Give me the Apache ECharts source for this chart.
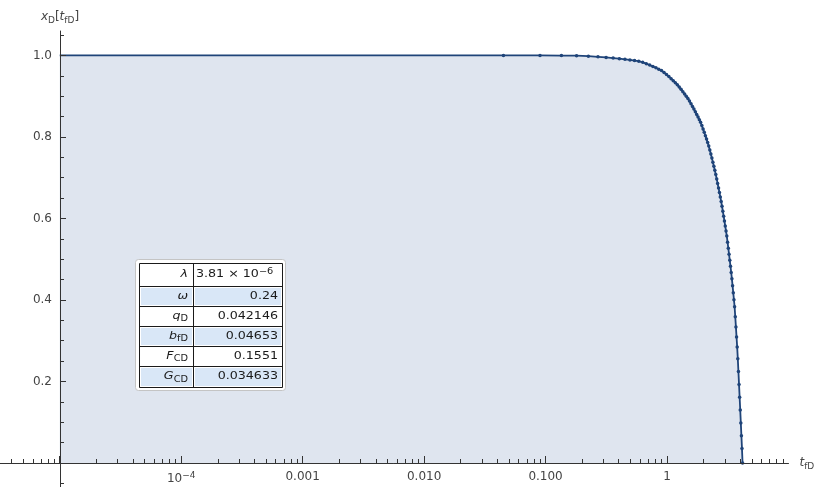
<!DOCTYPE html>
<html>
<head>
<meta charset="utf-8">
<script src="https://cdn.jsdelivr.net/npm/echarts@6/dist/echarts.min.js"></script>
<style>
  html, body { margin: 0; padding: 0; background: #ffffff; }
  #chart { width: 820px; height: 487px; }
</style>
</head>
<body>
<div id="chart"></div>
<script>
// Dimensionless time t_fD and the matching x_D values of the curve
const tfD = [1e-5, 0.045, 0.09, 0.135, 0.18, 0.225, 0.27, 0.315, 0.36, 0.405, 0.45,
  0.495, 0.54, 0.585, 0.63, 0.675, 0.72, 0.765, 0.81, 0.855, 0.9,
  0.945, 0.99, 1.035, 1.08, 1.125, 1.17, 1.215, 1.26, 1.305, 1.35,
  1.395, 1.44, 1.485, 1.53, 1.575, 1.62, 1.665, 1.71, 1.755, 1.8,
  1.845, 1.89, 1.935, 1.98, 2.025, 2.07, 2.115, 2.16, 2.205, 2.25,
  2.295, 2.34, 2.385, 2.43, 2.475, 2.52, 2.565, 2.61, 2.655, 2.7,
  2.745, 2.79, 2.835, 2.88, 2.925, 2.97, 3.015, 3.06, 3.105, 3.15,
  3.195, 3.24, 3.285, 3.33, 3.375, 3.42, 3.465, 3.51, 3.555, 3.6,
  3.645, 3.69, 3.735, 3.78, 3.825, 3.87, 3.915, 3.96, 4.005, 4.05,
  4.095, 4.14, 4.185];
const xD = [1, 1.0, 1.0, 0.9998, 0.9995, 0.9982, 0.9966, 0.9951, 0.9936, 0.9920, 0.9905,
  0.9890, 0.9874, 0.9859, 0.9832, 0.9798, 0.9764, 0.9730, 0.9697, 0.9663, 0.9629,
  0.9580, 0.9530, 0.9481, 0.9431, 0.9382, 0.9332, 0.9280, 0.9224, 0.9168, 0.9111,
  0.9055, 0.8999, 0.8943, 0.8880, 0.8815, 0.8750, 0.8685, 0.8619, 0.8554, 0.8489,
  0.8424, 0.8359, 0.8279, 0.8196, 0.8113, 0.8030, 0.7947, 0.7864, 0.7778, 0.7679,
  0.7580, 0.7481, 0.7382, 0.7283, 0.7184, 0.7080, 0.6970, 0.6859, 0.6749, 0.6639,
  0.6529, 0.6418, 0.6300, 0.6178, 0.6057, 0.5935, 0.5814, 0.5692, 0.5568, 0.5419,
  0.5271, 0.5122, 0.4974, 0.4825, 0.4677, 0.4518, 0.4347, 0.4176, 0.4005, 0.3834,
  0.3587, 0.3339, 0.3092, 0.2844, 0.2559, 0.2244, 0.1929, 0.1614, 0.1299, 0.0984,
  0.0669, 0.0354, 0.0];

// Axis ticks and labels
const xMajorTicks = [1e-5, 1e-4, 1e-3, 1e-2, 1e-1, 1];
const xLabelTicks = [1e-4, 1e-3, 1e-2, 1e-1, 1];
const xLabelText = ['{n|10}{sup|\u22124}', '0.001', '0.010', '0.100', '1'];
const xMinorMantissas = [2, 3, 4, 5, 6, 7, 8, 9];
const xMinorDecades = [-6, -5, -4, -3, -2, -1, 0];
const yMajorTicks = [0.2, 0.4, 0.6, 0.8, 1.0];
const yMinorTicks = [0.05, 0.1, 0.15, 0.25, 0.3, 0.35, 0.45, 0.5, 0.55,
  0.65, 0.7, 0.75, 0.85, 0.9, 0.95, 1.05];
const yLowTicks = [-0.05];

// Parameter table
const paramNames = ['{i|\u03bb}', '{i|\u03c9}', '{i|q}{sub|D}', '{i|b}{sub|fD}', '{i|F}{sub|CD}', '{i|G}{sub|CD}'];
const paramValues = ['{n|3.81 \u00d7 10}{sup|\u22126}', '0.24', '0.042146', '0.04653', '0.1551', '0.034633'];

const X_MIN = Math.pow(10, -5.5);
const X_MAX = 10;
const Y_MIN = 0;
const Y_MAX = 1.06;
const Y_LOW = -0.06;
const FONT = 'DejaVu Sans';
const axisColor = '#333333';
const labelColor = '#444444';
const lineColor = '#1f4479';
const fillColor = '#dfe5ef';

const xMinorTicks = [];
xMinorDecades.forEach(d => xMinorMantissas.forEach(m => {
  const v = m * Math.pow(10, d);
  if (v > X_MIN && v < X_MAX) xMinorTicks.push(v);
}));

const seriesData = tfD.map((t, i) => i === 0
  ? { value: [t, xD[i]], symbol: 'none' }
  : [t, xD[i]]);

const richBase = {
  n: { fontFamily: FONT, fontSize: 12, color: labelColor, lineHeight: 16 },
  i: { fontFamily: FONT, fontSize: 12, fontStyle: 'italic', color: labelColor, lineHeight: 16 },
  sub: { fontFamily: FONT, fontSize: 9, color: labelColor, lineHeight: 10, verticalAlign: 'bottom' },
  sup: { fontFamily: FONT, fontSize: 9, color: labelColor, lineHeight: 10, verticalAlign: 'top' }
};

// Table layout
const tbl = { x0: 139, x1: 282, split: 193, rows: [263, 286, 306, 326, 346, 366, 387] };
const tableFont = 11;
const tableRich = {
  n: { fontFamily: FONT, fontSize: tableFont, fill: '#1a1a1a', lineHeight: 15 },
  i: { fontFamily: FONT, fontSize: tableFont, fontStyle: 'italic', fill: '#1a1a1a', lineHeight: 15 },
  sub: { fontFamily: FONT, fontSize: 8.5, fill: '#1a1a1a', lineHeight: 9, verticalAlign: 'bottom' },
  sup: { fontFamily: FONT, fontSize: 8.5, fill: '#1a1a1a', lineHeight: 9, verticalAlign: 'top' }
};
const tableElems = [];
tableElems.push({
  type: 'rect', z: 100,
  shape: { x: 135.5, y: 259.5, width: 150, height: 131, r: 3 },
  style: { fill: '#ffffff', stroke: '#c4c4c4', lineWidth: 1 }
});
for (let r = 0; r < paramNames.length; r++) {
  const top = tbl.rows[r], bot = tbl.rows[r + 1];
  if (r % 2 === 1) {
    tableElems.push({ type: 'rect', z: 101,
      shape: { x: tbl.x0 + 2, y: top + 2, width: tbl.split - tbl.x0 - 3, height: bot - top - 3 },
      style: { fill: '#d9e7f7' } });
    tableElems.push({ type: 'rect', z: 101,
      shape: { x: tbl.split + 2, y: top + 2, width: tbl.x1 - tbl.split - 3, height: bot - top - 3 },
      style: { fill: '#d9e7f7' } });
  }
  const cy = (top + bot) / 2;
  tableElems.push({ type: 'text', z: 103, x: tbl.split - 5, y: cy, scaleX: 1.15,
    style: { text: paramNames[r], rich: tableRich, fontFamily: FONT, fontSize: tableFont,
      fill: '#1a1a1a', align: 'right', verticalAlign: 'middle', textAlign: 'right', textVerticalAlign: 'middle' } });
  const first = r === 0;
  tableElems.push({ type: 'text', z: 103, x: first ? tbl.split + 3 : tbl.x1 - 4, y: cy, scaleX: 1.15,
    style: { text: paramValues[r], rich: tableRich, fontFamily: FONT, fontSize: tableFont,
      fill: '#1a1a1a', align: first ? 'left' : 'right', verticalAlign: 'middle',
      textAlign: first ? 'left' : 'right', textVerticalAlign: 'middle' } });
}
tableElems.push({ type: 'rect', z: 102,
  shape: { x: tbl.x0 + 0.5, y: tbl.rows[0] + 0.5, width: tbl.x1 - tbl.x0, height: tbl.rows[6] - tbl.rows[0] },
  style: { fill: 'none', stroke: '#1a1a1a', lineWidth: 1 } });
tableElems.push({ type: 'line', z: 102,
  shape: { x1: tbl.split + 0.5, y1: tbl.rows[0], x2: tbl.split + 0.5, y2: tbl.rows[6] },
  style: { stroke: '#1a1a1a', lineWidth: 1 } });
for (let r = 1; r < tbl.rows.length - 1; r++) {
  tableElems.push({ type: 'line', z: 102,
    shape: { x1: tbl.x0, y1: tbl.rows[r] + 0.5, x2: tbl.x1, y2: tbl.rows[r] + 0.5 },
    style: { stroke: '#1a1a1a', lineWidth: 1 } });
}

const hiddenLogX = (gridIndex) => ({
  type: 'log', logBase: 10, min: X_MIN, max: X_MAX, position: 'bottom', gridIndex,
  axisLine: { show: false, onZero: false }, axisTick: { show: false },
  axisLabel: { show: false }, splitLine: { show: false }
});

const chart = echarts.init(document.getElementById('chart'), null, { renderer: 'canvas' });
chart.setOption({
  animation: false,
  backgroundColor: '#ffffff',
  grid: [
    { left: -1, right: 31.5, top: 31, bottom: 24, containLabel: false, outerBoundsMode: 'none' },
    // short strip below the time axis that carries the downward part of the x_D axis
    { left: -1, right: 31.5, top: 463, bottom: -0.5, containLabel: false, outerBoundsMode: 'none' }
  ],
  xAxis: [
    {
      type: 'log', logBase: 10, min: X_MIN, max: X_MAX, position: 'bottom', gridIndex: 0, z: 10,
      axisLine: { show: true, onZero: false, lineStyle: { color: axisColor, width: 1 } },
      axisTick: { show: true, inside: true, length: 7, customValues: xMajorTicks,
        lineStyle: { color: axisColor, width: 1 } },
      axisLabel: {
        show: true, customValues: xLabelTicks, margin: 8,
        fontFamily: FONT, fontSize: 12, color: labelColor,
        formatter: v => {
          const k = xLabelTicks.findIndex(t => Math.abs(Math.log10(t) - Math.log10(v)) < 1e-6);
          return k < 0 ? '' : xLabelText[k];
        },
        rich: richBase
      },
      minorTick: { show: false },
      splitLine: { show: false },
      name: '{i|t}{sub|fD}', nameLocation: 'end', nameGap: 11,
      nameTextStyle: { rich: richBase, fontFamily: FONT, fontSize: 12, color: labelColor }
    },
    {
      type: 'log', logBase: 10, min: X_MIN, max: X_MAX, position: 'bottom', gridIndex: 0, z: 10,
      axisLine: { show: false, onZero: false },
      axisTick: { show: true, inside: true, length: 4, customValues: xMinorTicks,
        lineStyle: { color: axisColor, width: 1 } },
      axisLabel: { show: false },
      splitLine: { show: false }
    },
    hiddenLogX(1)
  ],
  yAxis: [
    {
      type: 'value', min: Y_MIN, max: Y_MAX, position: 'left', offset: -61, gridIndex: 0, z: 10,
      axisLine: { show: true, onZero: false, lineStyle: { color: axisColor, width: 1 } },
      axisTick: { show: true, inside: true, length: 6, customValues: yMajorTicks,
        lineStyle: { color: axisColor, width: 1 } },
      axisLabel: { show: true, customValues: yMajorTicks, margin: 8,
        fontFamily: FONT, fontSize: 12, color: labelColor,
        formatter: v => v.toFixed(1) },
      splitLine: { show: false },
      name: '{i|x}{sub|D}{n|[}{i|t}{sub|fD}{n|]}', nameLocation: 'end', nameGap: 6,
      nameTextStyle: { rich: richBase, fontFamily: FONT, fontSize: 12, color: labelColor }
    },
    {
      type: 'value', min: Y_MIN, max: Y_MAX, position: 'left', offset: -61, gridIndex: 0, z: 10,
      axisLine: { show: false, onZero: false },
      axisTick: { show: true, inside: true, length: 4, customValues: yMinorTicks,
        lineStyle: { color: axisColor, width: 1 } },
      axisLabel: { show: false },
      splitLine: { show: false }
    },
    {
      type: 'value', min: Y_LOW, max: 0, position: 'left', offset: -61, gridIndex: 1, z: 10,
      axisLine: { show: true, onZero: false, lineStyle: { color: axisColor, width: 1 } },
      axisTick: { show: true, inside: true, length: 4, customValues: yLowTicks,
        lineStyle: { color: axisColor, width: 1 } },
      axisLabel: { show: false },
      splitLine: { show: false }
    }
  ],
  series: [
    {
      type: 'line', xAxisIndex: 0, yAxisIndex: 0,
      data: seriesData,
      symbol: 'circle', symbolSize: 3.5, showSymbol: true,
      lineStyle: { color: lineColor, width: 1.8 },
      itemStyle: { color: lineColor },
      areaStyle: { color: fillColor, opacity: 1 },
      z: 3
    }
  ],
  graphic: tableElems
});
</script>
</body>
</html>
